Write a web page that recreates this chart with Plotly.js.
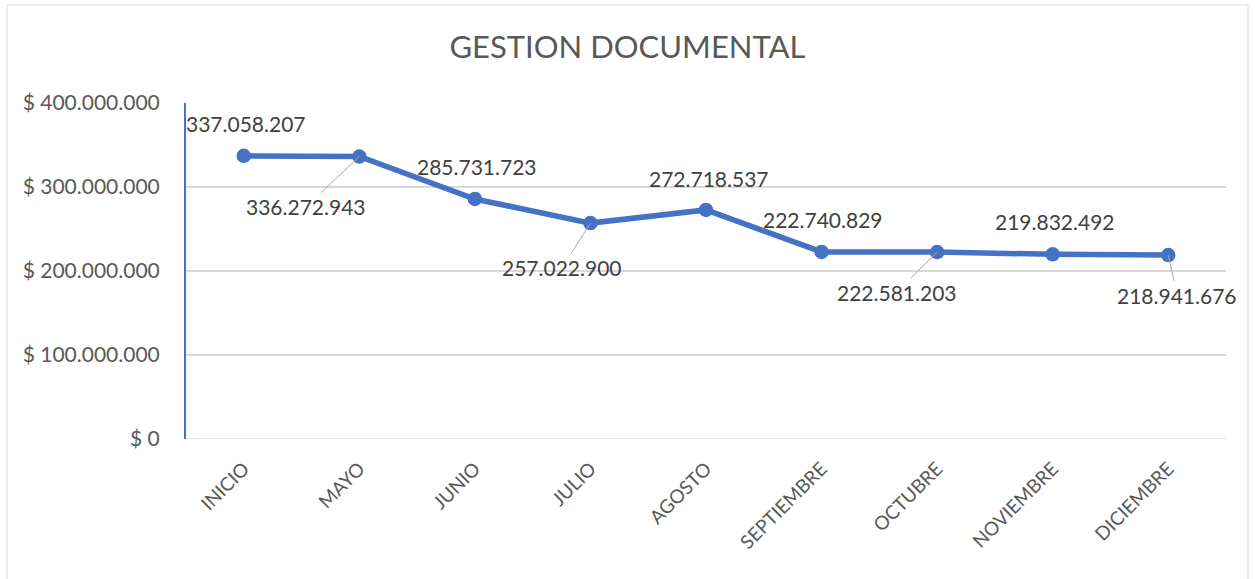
<!DOCTYPE html>
<html>
<head>
<meta charset="utf-8">
<script src="https://cdn.plot.ly/plotly-3.0.1.min.js"></script>
<style>html,body{margin:0;padding:0;background:#fff;}#chart{width:1255px;height:579px;}</style>
</head>
<body>
<div id="chart"></div>
<script>
const categories = ["INICIO","MAYO","JUNIO","JULIO","AGOSTO","SEPTIEMBRE","OCTUBRE","NOVIEMBRE","DICIEMBRE"];
const values = [337058207, 336272943, 285731723, 257022900, 272718537, 222740829, 222581203, 219832492, 218941676];
const labelOffsetX = [2, -53, 2, -28, 3, 1, -40, 2, 9];
const labelOffsetY = [-32, 50, -32, 44, -31, -32, 40, -33, 40];
const hasLeader = [false, true, false, true, false, false, true, false, true];

function fmt(v){ return String(v).replace(/\B(?=(\d{3})+(?!\d))/g, "."); }

const FONT = "Lato, 'Open Sans', sans-serif";

const trace = {
  type: "scatter", mode: "lines+markers",
  x: categories, y: values,
  line: {color: "#4472C4", width: 5.5},
  marker: {color: "#4472C4", size: 14.5},
  hoverinfo: "skip"
};

const annotations = categories.map((c, i) => ({
  x: c, y: values[i], xref: "x", yref: "y",
  text: fmt(values[i]),
  showarrow: true, arrowhead: 0, arrowwidth: 1,
  arrowcolor: hasLeader[i] ? "#a6a6a6" : "rgba(0,0,0,0)",
  ax: labelOffsetX[i], ay: labelOffsetY[i],
  font: {family: FONT, size: 21, color: "#404040"}
}));

const layout = {
  width: 1255, height: 579,
  margin: {l: 186, r: 29, t: 103, b: 140},
  paper_bgcolor: "#ffffff", plot_bgcolor: "#ffffff",
  separators: ",.",
  showlegend: false,
  title: {text: "GESTION DOCUMENTAL", font: {family: FONT, size: 31, color: "#595959"},
          x: 0.5, xanchor: "center", y: 1 - 47/579, yanchor: "middle", yref: "container"},
  xaxis: {
    type: "category", range: [-0.5, 8.5],
    showgrid: false, zeroline: false, showline: false,
    tickangle: -45, ticklabelstandoff: 14,
    tickfont: {family: FONT, size: 19, color: "#595959"}
  },
  yaxis: {
    range: [0, 400000000], dtick: 100000000,
    tickprefix: "$ ", tickformat: ",d",
    showgrid: true, gridcolor: "#d9d9d9", gridwidth: 1.5,
    zeroline: false,
    showline: true, linecolor: "#4472C4", linewidth: 2,
    ticklabelstandoff: 20,
    tickfont: {family: FONT, size: 21, color: "#595959"}
  },
  shapes: [
    {type: "line", xref: "paper", yref: "y", x0: 0, x1: 1, y0: 0, y1: 0, line: {color: "#d9d9d9", width: 1.5}, layer: "below"},
    {type: "rect", xref: "paper", yref: "paper", x0: (7-186)/1040, x1: (1248-186)/1040, y0: (439-590)/336, y1: (439-5)/336,
     line: {color: "#d9d9d9", width: 1}, fillcolor: "rgba(0,0,0,0)", layer: "below"}
  ],
  annotations: annotations
};

Plotly.newPlot("chart", [trace], layout, {displayModeBar: false, staticPlot: true});
</script>
</body>
</html>
